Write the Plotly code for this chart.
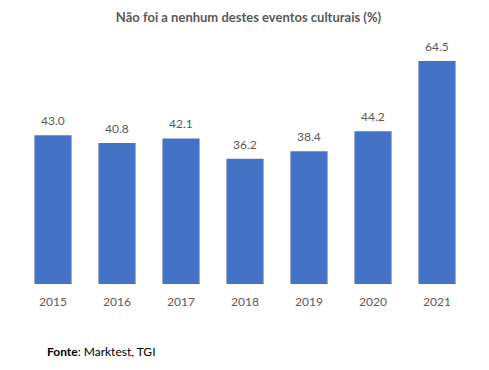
import plotly.graph_objects as go

years = ["2015", "2016", "2017", "2018", "2019", "2020", "2021"]
values = [43.0, 40.8, 42.1, 36.2, 38.4, 44.2, 64.5]

font_family = "Lato, Open Sans, sans-serif"

# page body has an 8px default margin; figure is sized to compensate
W, H = 481, 362
ML, MR, MT, MB = 13, 20, 34, 86
plot_w = W - ML - MR
plot_h = H - MT - MB

fig = go.Figure(go.Bar(
    x=years, y=values,
    marker=dict(color="#4472C4", line=dict(width=0)),
    hoverinfo="x+y",
))

# category axis: annotations use the category's serial index
value_labels = [dict(
    x=i, y=v, xref="x", yref="y", text=f"{v:.1f}",
    showarrow=False, yanchor="bottom", yshift=5,
    font=dict(size=12, color="#595959", family=font_family),
) for i, v in enumerate(values)]

fig.update_layout(
    width=W, height=H,
    margin=dict(l=ML, r=MR, t=MT, b=MB),
    paper_bgcolor="white", plot_bgcolor="white",
    bargap=0.42,
    showlegend=False,
    font=dict(family=font_family, color="#595959", size=12),
    title=dict(
        text="<b>Não foi a nenhum destes eventos culturais (%)</b>",
        x=0.5, xanchor="center", y=1 - 9/H, yanchor="middle",
        font=dict(size=13, color="#595959", family=font_family),
    ),
    xaxis=dict(type="category", categoryorder="array", categoryarray=years,
               range=[-0.5, len(years) - 0.5],
               showgrid=False, showline=False, zeroline=False, ticks="",
               ticklabelstandoff=9,
               tickfont=dict(size=12, color="#595959")),
    yaxis=dict(range=[0, 70], visible=False, showgrid=False, zeroline=False),
    annotations=value_labels + [dict(
        text="<b>Fonte</b>: Marktest, TGI",
        xref="paper", yref="paper",
        x=(37 - ML) / plot_w, y=-(343 - (H - MB)) / plot_h,
        xanchor="left", yanchor="middle", showarrow=False,
        font=dict(size=12, color="black", family=font_family),
    )],
)

fig.write_html("out.html")
